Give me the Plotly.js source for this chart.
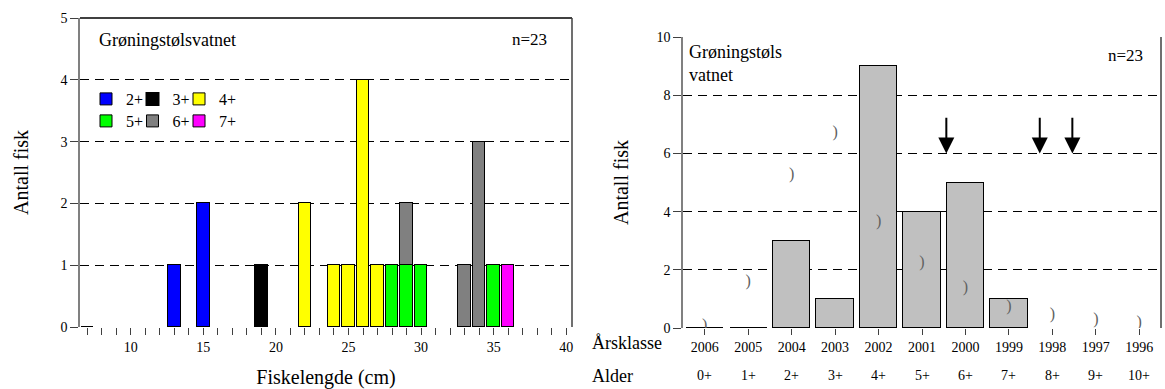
<!DOCTYPE html>
<html>
<head>
<meta charset="utf-8">
<script src="https://cdn.plot.ly/plotly-3.0.1.min.js"></script>
<style>
html,body{margin:0;padding:0;background:#fff;font-family:"Liberation Serif","Times New Roman",serif;}
#chart{width:1165px;height:389px;}
</style>
</head>
<body>
<div id="chart"></div>
<script>
// ---------- Left chart: length distribution by age ----------
const lengthTicks = [10, 15, 20, 25, 30, 35, 40];
const len2 = [13, 15];            const cnt2 = [1, 2];
const len3 = [7, 19];             const cnt3 = [0, 1];
const len4 = [22, 24, 25, 26, 27]; const cnt4 = [2, 1, 1, 4, 1];
const len5 = [28, 29, 30, 35];    const cnt5 = [1, 1, 1, 1];
const len6 = [29, 33, 34];        const cnt6 = [1, 1, 3];
const len7 = [36];                const cnt7 = [1];
const ageNames = ['2+', '3+', '4+', '5+', '6+', '7+'];
const ageColors = ['#0000ff', '#000000', '#ffff00', '#00ff00', '#808080', '#ff00ff'];

// ---------- Right chart: age distribution ----------
const yearClasses = ['2006', '2005', '2004', '2003', '2002', '2001', '2000', '1999', '1998', '1997', '1996'];
const ageLabels = ['0+', '1+', '2+', '3+', '4+', '5+', '6+', '7+', '8+', '9+', '10+'];
const fishCount = [0, 0, 3, 1, 9, 4, 5, 1, 0, 0, 0];
const barEdge = [2, 2, 1, 1, 1, 1, 1, 1, 0, 0, 0];
const curveMarks = [0.08, 1.58, 5.25, 6.69, 3.65, 2.24, 1.36, 0.72, 0.44, 0.29, 0.17];
const arrowPos = [5.56, 7.71, 8.46];
const arrowTip = 6, arrowTail = 7.28;

const SERIF = 'Liberation Serif';
const idx = yearClasses.map((_, i) => i);
const fnt = (size, color) => ({family: SERIF, size: size, color: color || '#000'});

const lens = [len2, len3, len4, len5, len6, len7];
const cnts = [cnt2, cnt3, cnt4, cnt5, cnt6, cnt7];
const traces = lens.map((xs, k) => ({
  type: 'bar', x: xs, y: cnts[k], name: ageNames[k],
  xaxis: 'x', yaxis: 'y', width: 0.85,
  marker: {color: ageColors[k], line: {color: '#000', width: xs.map((_, j) => cnts[k][j] === 0 ? 2 : 1)}},
  legend: k < 3 ? 'legend' : 'legend2',
  legendwidth: (k % 3 === 2) ? 24 : 1.5
}));

traces.push({
  type: 'bar', x: idx, y: fishCount, xaxis: 'x2', yaxis: 'y2', width: 0.86,
  marker: {color: '#c0c0c0', line: {color: '#000', width: barEdge}},
  showlegend: false
});
traces.push({
  type: 'scatter', mode: 'text', x: idx, y: curveMarks, text: idx.map(() => ')'),
  xaxis: 'x2', yaxis: 'y2', textposition: 'middle center',
  textfont: fnt(16, '#606060'),
  showlegend: false, hoverinfo: 'skip'
});

const W = 1165, H = 389;
const px = v => v / W, py = v => 1 - v / H;

const annotations = [
  {text: 'Grøningstølsvatnet', xref: 'paper', yref: 'paper', x: px(97), y: py(40), xanchor: 'left', yanchor: 'middle', showarrow: false, font: fnt(18)},
  {text: 'n=23', xref: 'paper', yref: 'paper', x: px(529), y: py(39), xanchor: 'center', yanchor: 'middle', showarrow: false, font: fnt(17)},
  {text: 'Grøningstøls<br>vatnet', xref: 'paper', yref: 'paper', x: px(687), y: py(64), xanchor: 'left', yanchor: 'middle', align: 'left', showarrow: false, font: fnt(18)},
  {text: 'n=23', xref: 'paper', yref: 'paper', x: px(1125), y: py(56), xanchor: 'center', yanchor: 'middle', showarrow: false, font: fnt(17)},
  {text: 'Årsklasse', xref: 'paper', yref: 'paper', x: px(590), y: py(343), xanchor: 'left', yanchor: 'middle', showarrow: false, font: fnt(18)},
  {text: 'Alder', xref: 'paper', yref: 'paper', x: px(590), y: py(376), xanchor: 'left', yanchor: 'middle', showarrow: false, font: fnt(18)}
];
ageLabels.forEach((t, i) => annotations.push({
  text: t, xref: 'x2', yref: 'paper', x: i, y: py(375), xanchor: 'center', yanchor: 'middle',
  showarrow: false, font: fnt(14)
}));
arrowPos.forEach(a => annotations.push({
  text: '', xref: 'x2', yref: 'y2', x: a, y: arrowTip, axref: 'x2', ayref: 'y2', ax: a, ay: arrowTail,
  showarrow: true, arrowhead: 2, arrowsize: 1.6, arrowwidth: 2, arrowcolor: '#000', standoff: 0
}));

const gridDash = '9px,6px';
const legendBase = {
  orientation: 'h', xanchor: 'left', yanchor: 'middle', traceorder: 'normal',
  itemwidth: 30, bgcolor: 'rgba(0,0,0,0)', borderwidth: 0,
  font: fnt(16), itemclick: false, itemdoubleclick: false
};
const layout = {
  width: W, height: H,
  margin: {l: 0, r: 0, t: 0, b: 0},
  paper_bgcolor: '#fff', plot_bgcolor: '#fff',
  font: fnt(14),
  barmode: 'stack', bargap: 0,
  showlegend: true,
  xaxis: {
    domain: [px(80), px(572)], anchor: 'y', range: [6.5, 40.4],
    tickmode: 'array', tickvals: lengthTicks, ticks: 'outside', ticklen: 7, tickcolor: '#404040',
    minor: {dtick: 1, tick0: 0, ticks: 'outside', ticklen: 7, tickcolor: '#404040', showgrid: false},
    showgrid: false, zeroline: false, showline: false,
    tickfont: fnt(14),
    title: {text: 'Fiskelengde (cm)', font: fnt(20), standoff: 17},
    automargin: false, fixedrange: true
  },
  yaxis: {
    domain: [1 - 327 / H, 1 - 18 / H], anchor: 'x', range: [0, 5],
    tickmode: 'linear', tick0: 0, dtick: 1, ticks: 'outside', ticklen: 8, tickcolor: '#404040',
    showline: true, linecolor: '#808080', linewidth: 1.5,
    showgrid: true, gridcolor: '#000', gridwidth: 1, griddash: gridDash, zeroline: false,
    tickfont: fnt(14),
    title: {text: 'Antall fisk', font: fnt(20), standoff: 26},
    automargin: false, fixedrange: true
  },
  xaxis2: {
    domain: [px(683), px(1161)], anchor: 'y2', range: [-0.5, 10.5],
    tickmode: 'array', tickvals: idx, ticktext: yearClasses, ticks: 'outside', ticklen: 6, tickcolor: '#404040',
    showgrid: false, zeroline: false, showline: false,
    tickfont: fnt(14),
    automargin: false, fixedrange: true
  },
  yaxis2: {
    domain: [1 - 328 / H, 1 - 37 / H], anchor: 'x2', range: [0, 10],
    tickmode: 'linear', tick0: 0, dtick: 2, ticks: 'outside', ticklen: 8, tickcolor: '#404040',
    showline: true, linecolor: '#808080', linewidth: 1.5,
    showgrid: true, gridcolor: '#000', gridwidth: 1, griddash: gridDash, zeroline: false,
    tickfont: fnt(14),
    title: {text: 'Antall fisk', font: fnt(20), standoff: 22},
    automargin: false, fixedrange: true
  },
  legend: Object.assign({}, legendBase, {x: px(86), y: py(99)}),
  legend2: Object.assign({}, legendBase, {x: px(86), y: py(121)}),
  shapes: [
    {type: 'line', xref: 'x domain', yref: 'y domain', x0: 0, x1: 1, y0: 1, y1: 1, line: {color: '#000', width: 1.5}},
    {type: 'line', xref: 'x domain', yref: 'y domain', x0: 1, x1: 1, y0: 0, y1: 1, line: {color: '#404040', width: 1.5}},
    {type: 'line', xref: 'x2 domain', yref: 'y2 domain', x0: 1, x1: 1, y0: 0, y1: 1, line: {color: '#404040', width: 1.5}}
  ],
  annotations: annotations
};

Plotly.newPlot('chart', traces, layout, {displayModeBar: false});
</script>
</body>
</html>
